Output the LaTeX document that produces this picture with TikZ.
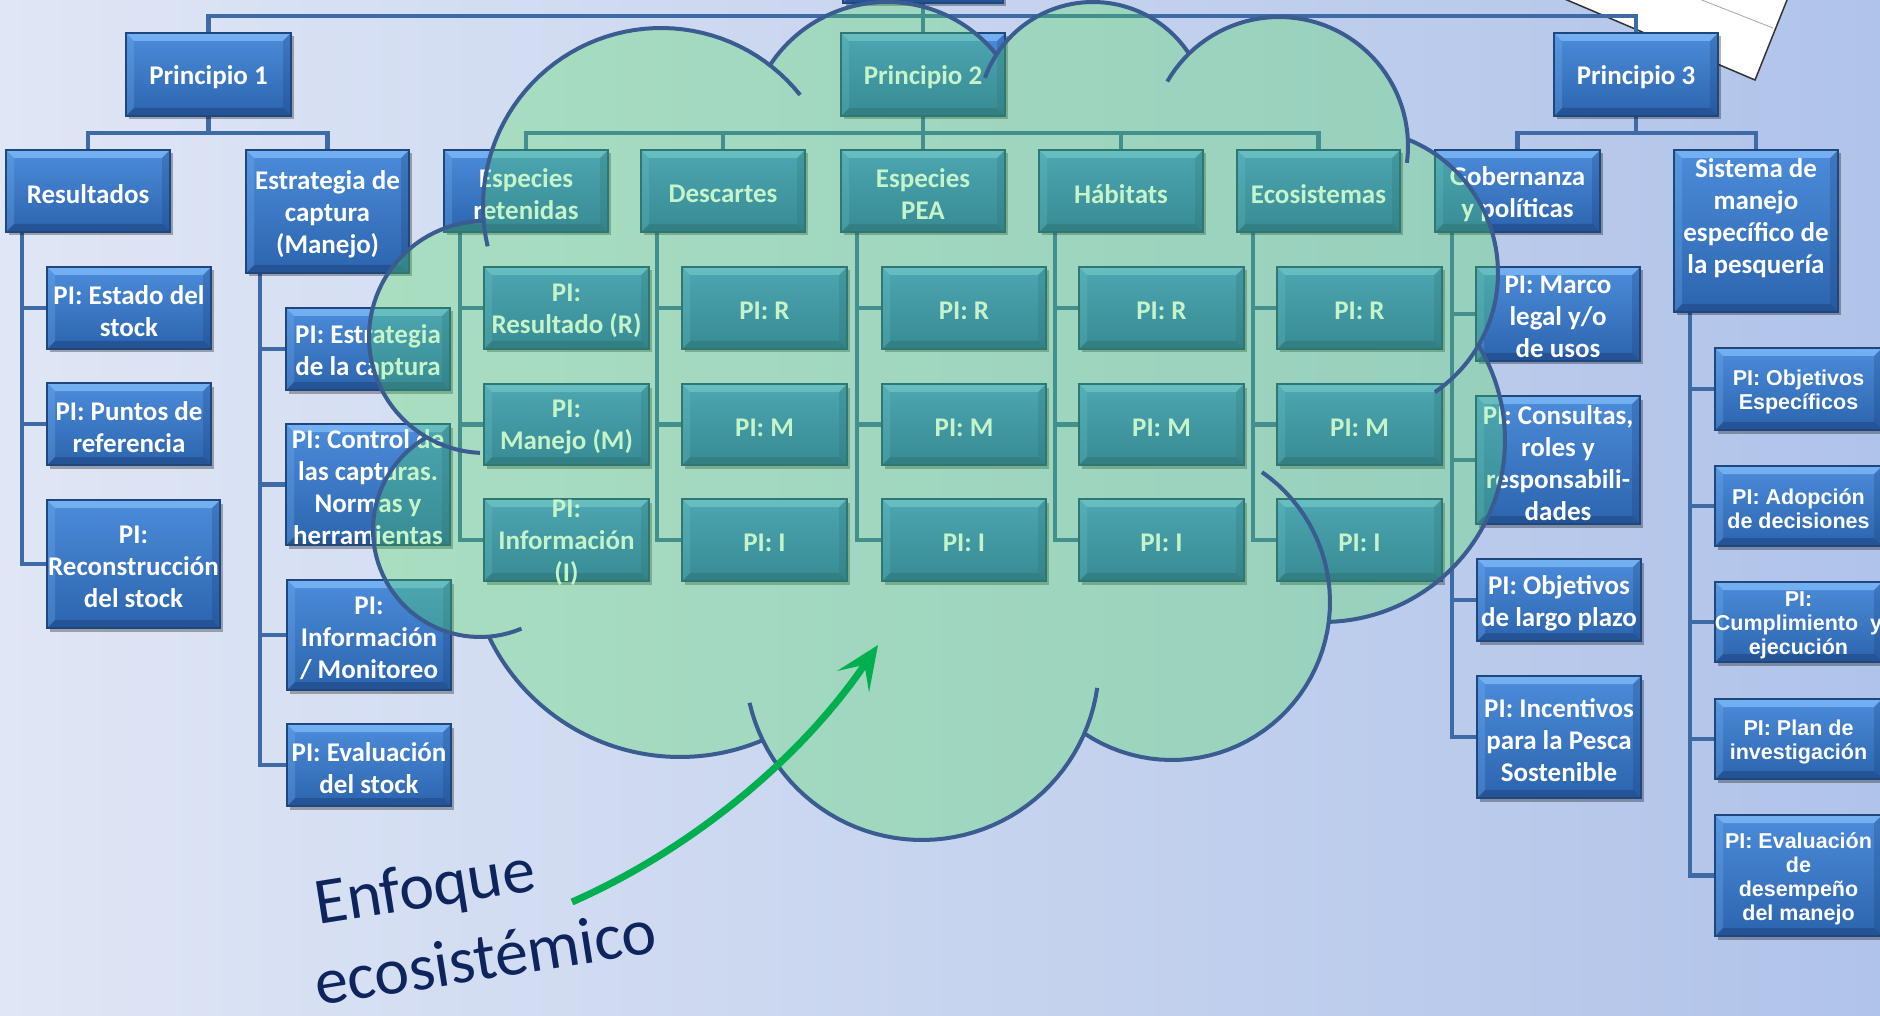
\documentclass[tikz,border=0pt]{standalone}
\usepackage{fontspec}
\setmainfont{Carlito}
\newfontfamily\arialf{Liberation Sans}
\usetikzlibrary{shadows,arrows.meta}
\pgfdeclarelayer{back}
\pgfdeclarelayer{mid}
\pgfdeclarelayer{front}
\pgfsetlayers{back,mid,main,front}

\definecolor{bgL}{RGB}{223,230,245}
\definecolor{bgR}{RGB}{176,195,233}
\definecolor{bxtop}{RGB}{76,140,218}
\definecolor{bxbot}{RGB}{44,100,174}
\definecolor{bxedge}{RGB}{32,70,126}
\definecolor{bxlight}{RGB}{125,185,248}
\definecolor{bxdark}{RGB}{26,62,120}
\definecolor{connc}{RGB}{62,106,165}
\definecolor{cloudg}{RGB}{80,220,95}
\definecolor{cloudln}{RGB}{58,92,145}
\definecolor{arrg}{RGB}{0,176,80}
\definecolor{navy}{RGB}{14,36,92}

\tikzset{
  boxbase/.style={draw=bxedge, line width=1.2pt, top color=bxtop, bottom color=bxbot,
    inner sep=0pt, outer sep=0pt,
    drop shadow={shadow xshift=2.5pt, shadow yshift=-3.5pt, opacity=0.3, fill=black},
    path picture={
      \fill[bxlight,opacity=0.8] (path picture bounding box.north west) -- (path picture bounding box.north east)
        -- ([xshift=-8pt,yshift=-8pt]path picture bounding box.north east) -- ([xshift=8pt,yshift=-8pt]path picture bounding box.north west) -- cycle;
      \fill[bxdark,opacity=0.45] (path picture bounding box.south west) -- (path picture bounding box.south east)
        -- ([xshift=-8pt,yshift=8pt]path picture bounding box.south east) -- ([xshift=8pt,yshift=8pt]path picture bounding box.south west) -- cycle;
      \fill[bxlight,opacity=0.25] (path picture bounding box.north west) -- ([xshift=8pt,yshift=-8pt]path picture bounding box.north west)
        -- ([xshift=8pt,yshift=8pt]path picture bounding box.south west) -- (path picture bounding box.south west) -- cycle;
      \fill[bxdark,opacity=0.25] (path picture bounding box.north east) -- ([xshift=-8pt,yshift=-8pt]path picture bounding box.north east)
        -- ([xshift=-8pt,yshift=8pt]path picture bounding box.south east) -- (path picture bounding box.south east) -- cycle;
    }},
  boxtext/.style={text=white, align=center, inner sep=0pt, yshift=-3pt, font=\fontsize{27}{32}\selectfont\bfseries},
  arialtext/.style={font=\arialf\fontsize{21.5}{24}\selectfont\bfseries},
  conn/.style={draw=connc, line width=4.5pt},
  cloudline/.style={draw=cloudln, line width=4pt},
  enf/.style={font=\fontsize{66}{70}\selectfont, text=navy, inner sep=0pt, anchor=base west, rotate=9},
}

\newcommand\bnode[7][]{%
  \node[boxbase, minimum width={(#5-#3)*1pt}, minimum height={(#6-#4)*1pt}] (#2) at ({(#3+#5)/2},{(#4+#6)/2}) {};
  \node[boxtext,#1] (#2t) at (#2.center) {#7};}

\begin{document}
\begin{tikzpicture}[x=1pt,y=-1pt]
\useasboundingbox (0,0) rectangle (1880,1016);

\begin{pgfonlayer}{back}
\shade[left color=bgL, right color=bgR] (0,0) rectangle (1880,1016);
\filldraw[fill=white, draw=black!80, line width=1.5pt] (1755,80) -- (1379,-80) -- (1427,-200) -- (1803,-40) -- cycle;
\draw[gray!70, line width=0.8pt] (1773,28) -- (1600,-40);
\end{pgfonlayer}

% level 0/1
\bnode{root}{843}{-60}{1003}{3}{}
\bnode{p1}{126}{33}{291}{116}{Principio 1}
\bnode{p2}{841}{33}{1005}{116}{Principio 2}
\bnode{p3}{1554}{33}{1718}{116}{Principio 3}

% level 2
\bnode{res}{6}{150}{170}{232}{Resultados}
\bnode{est}{246}{150}{409}{273}{Estrategia de\\captura\\(Manejo)}
\bnode{esp}{444}{150}{608}{232}{Especies\\retenidas}
\bnode{des}{641}{150}{805}{232}{Descartes}
\bnode{pea}{841}{150}{1005}{232}{Especies\\PEA}
\bnode{hab}{1039}{150}{1203}{232}{Hábitats}
\bnode{eco}{1237}{150}{1400}{232}{Ecosistemas}
\bnode{gob}{1435}{150}{1600}{232}{Gobernanza\\y políticas}
\bnode[yshift=2pt]{sis}{1674}{150}{1838}{312}{Sistema de\\manejo\\específico de\\la pesquería\\\mbox{}}

% Resultados
\bnode{r1}{47}{267}{211}{349}{PI: Estado del\\stock}
\bnode{r2}{47}{383}{211}{465}{PI: Puntos de\\referencia}
\bnode{r3}{47}{500}{220}{628}{PI:\\Reconstrucción\\del stock}
% Estrategia
\bnode{e1}{286}{308}{450}{390}{PI: Estrategia\\de la captura}
\bnode{e2}{286}{424}{450}{545}{PI: Control de\\las capturas.\\Normas y\\herramientas}
\bnode{e3}{287}{580}{451}{690}{PI:\\Información\\/ Monitoreo}
\bnode{e4}{287}{724}{451}{806}{PI: Evaluación\\del stock}
% Principio 2 grid
\bnode{s1}{484}{267}{649}{349}{PI:\\Resultado (R)}
\bnode{s2}{484}{384}{649}{465}{PI:\\Manejo (M)}
\bnode{s3}{484}{499}{649}{581}{PI:\\Información\\(I)}
\bnode{d1}{682}{267}{847}{349}{PI: R}
\bnode{d2}{682}{384}{847}{465}{PI: M}
\bnode{d3}{682}{499}{847}{581}{PI: I}
\bnode{q1}{882}{267}{1046}{349}{PI: R}
\bnode{q2}{882}{384}{1046}{465}{PI: M}
\bnode{q3}{882}{499}{1046}{581}{PI: I}
\bnode{h1}{1079}{267}{1244}{349}{PI: R}
\bnode{h2}{1079}{384}{1244}{465}{PI: M}
\bnode{h3}{1079}{499}{1244}{581}{PI: I}
\bnode{c1}{1277}{267}{1442}{349}{PI: R}
\bnode{c2}{1277}{384}{1442}{465}{PI: M}
\bnode{c3}{1277}{499}{1442}{581}{PI: I}
% Gobernanza
\bnode{g1}{1476}{267}{1640}{361}{PI: Marco\\legal y/o\\de usos}
\bnode{g2}{1476}{396}{1640}{524}{PI: Consultas,\\roles y\\responsabili-\\dades}
\bnode{g3}{1477}{559}{1641}{641}{PI: Objetivos\\de largo plazo}
\bnode{g4}{1477}{676}{1641}{798}{PI: Incentivos\\para la Pesca\\Sostenible}
% Sistema de manejo
\bnode[arialtext]{m1}{1715}{348}{1882}{430}{PI: Objetivos\\Específicos}
\bnode[arialtext]{m2}{1715}{466}{1882}{546}{PI: Adopción\\de decisiones}
\bnode[arialtext]{m3}{1715}{582}{1882}{662}{PI:\\Cumplimiento~ y\\ejecución}
\bnode[arialtext]{m4}{1715}{699}{1882}{779}{PI: Plan de\\investigación}
\bnode[arialtext]{m5}{1715}{815}{1882}{936}{PI: Evaluación\\de\\desempeño\\del manejo}

\begin{pgfonlayer}{mid}
\draw[conn] (p1.north) -- ++(0,-17) -| (p3.north);
\draw[conn] (root.south) -- (p2.north);
\foreach \c in {res,est} \draw[conn] (p1.south) -- ++(0,17) -| (\c.north);
\foreach \c in {esp,des,pea,hab,eco} \draw[conn] (p2.south) -- ++(0,17) -| (\c.north);
\foreach \c in {gob,sis} \draw[conn] (p3.south) -- ++(0,17) -| (\c.north);
\foreach \c in {r1,r2,r3} \draw[conn] ([xshift=16pt]res.south west) |- (\c.west);
\foreach \c in {e1,e2,e3,e4} \draw[conn] ([xshift=14pt]est.south west) |- (\c.west);
\foreach \h/\a/\b/\c in {esp/s1/s2/s3, des/d1/d2/d3, pea/q1/q2/q3, hab/h1/h2/h3, eco/c1/c2/c3} {
  \draw[conn] ([xshift=16pt]\h.south west) |- (\a.west);
  \draw[conn] ([xshift=16pt]\h.south west) |- (\b.west);
  \draw[conn] ([xshift=16pt]\h.south west) |- (\c.west);
}
\foreach \c in {g1,g2,g3,g4} \draw[conn] ([xshift=17pt]gob.south west) |- (\c.west);
\foreach \c in {m1,m2,m3,m4,m5} \draw[conn] ([xshift=16pt]sis.south west) |- (\c.west);
\end{pgfonlayer}

\begin{pgfonlayer}{front}
% cloud fill
\fill[cloudg, fill opacity=0.33]
  plot[variable=\t,domain=120.1:269.5,samples=40] ({485+116*cos(\t)},{337+116*sin(\t)})
  -- plot[variable=\t,domain=175.2:307.7,samples=40] ({661+178*cos(\t)},{206+178*sin(\t)})
  -- plot[variable=\t,domain=213.3:321.3,samples=40] ({887+140*cos(\t)},{142+140*sin(\t)})
  -- plot[variable=\t,domain=212.9:326.5,samples=40] ({1093+115*cos(\t)},{117+115*sin(\t)})
  -- plot[variable=\t,domain=225.8:357.1,samples=40] ({1279+129*cos(\t)},{146+129*sin(\t)})
  -- plot[variable=\t,domain=292:390.1,samples=40] ({1354+144*cos(\t)},{273+144*sin(\t)})
  -- plot[variable=\t,domain=328.5:448.1,samples=40] ({1323+182*cos(\t)},{440+182*sin(\t)})
  -- plot[variable=\t,domain=7.3:123.7,samples=40] ({1172+158*cos(\t)},{602+158*sin(\t)})
  -- plot[variable=\t,domain=23.5:154.2,samples=40] ({922+177*cos(\t)},{663+177*sin(\t)})
  -- plot[variable=\t,domain=67:154.4,samples=40] ({680+212*cos(\t)},{545+212*sin(\t)})
  -- plot[variable=\t,domain=85.2:240.3,samples=40] ({480+107*cos(\t)},{530+107*sin(\t)})
  -- cycle;
% cloud outline
\draw[cloudline] plot[variable=\t,domain=92.5:269.5,samples=50] ({485+116*cos(\t)},{337+116*sin(\t)});
\draw[cloudline] plot[variable=\t,domain=166.9:321.4,samples=50] ({661+178*cos(\t)},{206+178*sin(\t)});
\draw[cloudline] plot[variable=\t,domain=213.3:321.3,samples=50] ({887+140*cos(\t)},{142+140*sin(\t)});
\draw[cloudline] plot[variable=\t,domain=199.9:326.5,samples=50] ({1093+115*cos(\t)},{117+115*sin(\t)});
\draw[cloudline] plot[variable=\t,domain=210:367.5,samples=50] ({1279+129*cos(\t)},{146+129*sin(\t)});
\draw[cloudline] plot[variable=\t,domain=292:415.8,samples=50] ({1354+144*cos(\t)},{273+144*sin(\t)});
\draw[cloudline] plot[variable=\t,domain=328.5:448.1,samples=50] ({1323+182*cos(\t)},{440+182*sin(\t)});
\draw[cloudline] plot[variable=\t,domain=-55.3:123.7,samples=50] ({1172+158*cos(\t)},{602+158*sin(\t)});
\draw[cloudline] plot[variable=\t,domain=8.1:167,samples=50] ({922+177*cos(\t)},{663+177*sin(\t)});
\draw[cloudline] plot[variable=\t,domain=67:154.4,samples=50] ({680+212*cos(\t)},{545+212*sin(\t)});
\draw[cloudline] plot[variable=\t,domain=67.2:240.3,samples=50] ({480+107*cos(\t)},{530+107*sin(\t)});

% arrow
\coordinate (aS) at (572,902);
\coordinate (aE) at (878,645);
\draw[draw=arrg, line width=7pt, -{Stealth[length=44pt,width=38pt,inset=20pt]}] (aS) .. controls (690,850) and (800,760) .. (aE);

% label
\node[enf] (enf1) at (318,925) {Enfoque};
\node[enf] (enf2) at (318,1006) {ecosistémico};
\end{pgfonlayer}
\end{tikzpicture}
\end{document}
